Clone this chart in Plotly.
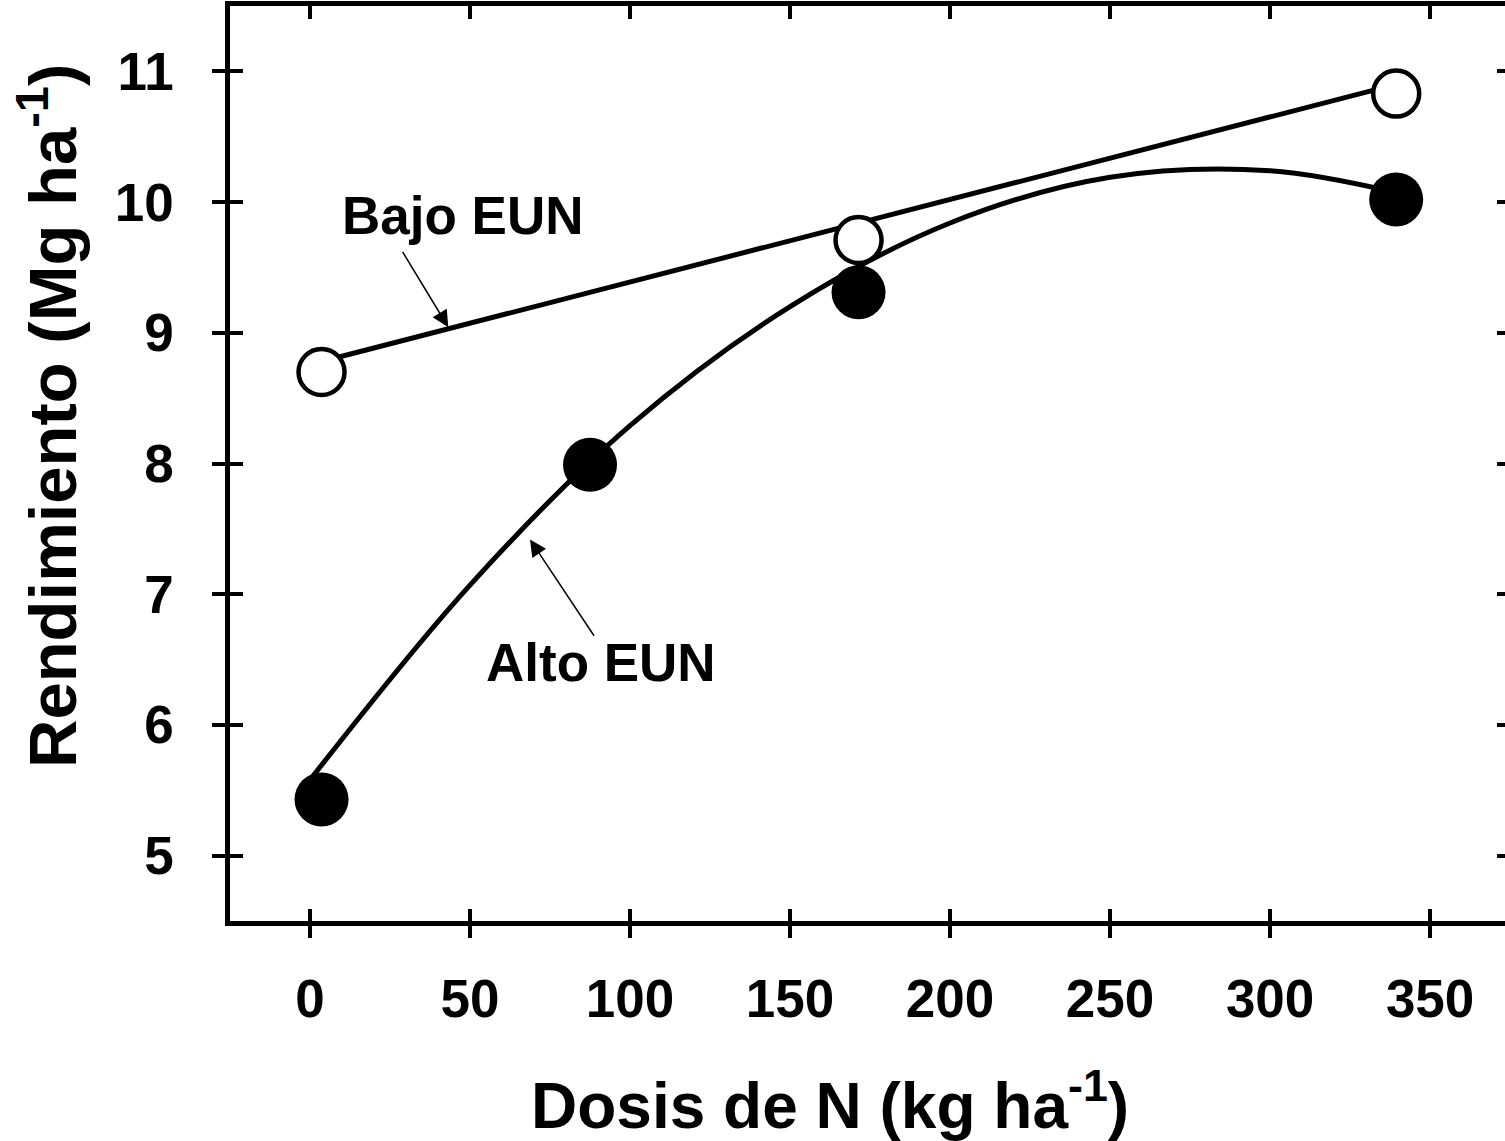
import plotly.graph_objects as go

# Measured yields (Mg/ha) at each N rate (kg/ha)
dosis = [3.6, 87.5, 171.4, 339.4]
alto_eun = [5.43, 7.99, 9.31, 10.02]

dosis_bajo = [3.6, 171.4, 339.4]
bajo_eun = [8.70, 9.71, 10.83]

# Fitted response curves
ajuste_bajo_x = [3.6, 339.4]
ajuste_bajo_y = [8.78, 10.90]

ajuste_alto_x = [0, 50, 100, 150, 200, 250, 300, 340]
ajuste_alto_y = [5.58, 7.07, 8.29, 9.20, 9.84, 10.19, 10.24, 10.07]

x_ticks = [0, 50, 100, 150, 200, 250, 300, 350]
y_ticks = [5, 6, 7, 8, 9, 10, 11]

FONT = "Arial, 'Liberation Sans', sans-serif"
BLACK = "#000000"

fig = go.Figure()

fig.add_trace(go.Scatter(x=ajuste_alto_x, y=ajuste_alto_y, mode="lines",
                         line=dict(color=BLACK, width=5, shape="spline", smoothing=1.0),
                         hoverinfo="skip", showlegend=False))
fig.add_trace(go.Scatter(x=ajuste_bajo_x, y=ajuste_bajo_y, mode="lines",
                         line=dict(color=BLACK, width=5),
                         hoverinfo="skip", showlegend=False))
fig.add_trace(go.Scatter(x=dosis, y=alto_eun, mode="markers", name="Alto EUN",
                         marker=dict(symbol="circle", size=54, color=BLACK, line=dict(width=0)),
                         showlegend=False))
fig.add_trace(go.Scatter(x=dosis_bajo, y=bajo_eun, mode="markers", name="Bajo EUN",
                         marker=dict(symbol="circle", size=46, color="white",
                                     line=dict(color=BLACK, width=4.5)),
                         showlegend=False))

# empty traces so the overlay axes (inner ticks and frame) are rendered
fig.add_trace(go.Scatter(x=[], y=[], xaxis="x2", yaxis="y2", showlegend=False, hoverinfo="skip"))
fig.add_trace(go.Scatter(x=[], y=[], xaxis="x3", yaxis="y3", showlegend=False, hoverinfo="skip"))

x_range = [-25, 373.4]
y_range = [4.5, 11.5]
tick_font = dict(family=FONT, size=53, color=BLACK)
AXIS_W = 4.5

fig.update_layout(
    width=1505, height=1141,
    margin=dict(l=230, r=0, t=6, b=220),
    paper_bgcolor="white", plot_bgcolor="white",
    font=dict(family=FONT, color=BLACK),
    xaxis=dict(range=x_range, tickmode="array", tickvals=x_ticks,
               ticktext=[f"<b>{v}</b>" for v in x_ticks], tickfont=tick_font,
               showline=True, linewidth=AXIS_W, linecolor=BLACK, mirror=False,
               ticks="outside", ticklen=12, tickwidth=4, tickcolor=BLACK,
               showgrid=False, zeroline=False, ticklabelstandoff=16),
    # inner half of the bottom ticks
    xaxis2=dict(range=x_range, overlaying="x", anchor="y", side="bottom",
                tickmode="array", tickvals=x_ticks, showticklabels=False,
                ticks="inside", ticklen=12, tickwidth=4, tickcolor=BLACK,
                showline=False, showgrid=False, zeroline=False),
    # top frame with inward ticks
    xaxis3=dict(range=x_range, overlaying="x", anchor="y", side="top",
                tickmode="array", tickvals=x_ticks, showticklabels=False,
                ticks="inside", ticklen=13, tickwidth=4, tickcolor=BLACK,
                showline=True, linewidth=AXIS_W, linecolor=BLACK,
                showgrid=False, zeroline=False),
    yaxis=dict(range=y_range, tickmode="array", tickvals=y_ticks,
               ticktext=[f"<b>{v}</b>" for v in y_ticks], tickfont=tick_font,
               showline=True, linewidth=AXIS_W, linecolor=BLACK, mirror=False,
               ticks="outside", ticklen=13, tickwidth=4, tickcolor=BLACK,
               showgrid=False, zeroline=False, ticklabelstandoff=28),
    yaxis2=dict(range=y_range, overlaying="y", anchor="x", side="left",
                tickmode="array", tickvals=y_ticks, showticklabels=False,
                ticks="inside", ticklen=13, tickwidth=4, tickcolor=BLACK,
                showline=False, showgrid=False, zeroline=False),
    yaxis3=dict(range=y_range, overlaying="y", anchor="x", side="right",
                tickmode="array", tickvals=y_ticks, showticklabels=False,
                ticks="inside", ticklen=8, tickwidth=4, tickcolor=BLACK,
                showline=False, showgrid=False, zeroline=False),
)

annotations = [
    # axis titles
    dict(text="<b>Dosis de N (kg ha<sup>-1</sup>)</b>", xref="paper", yref="paper",
         x=0.4706, y=-0.197, xanchor="center", yanchor="middle", showarrow=False,
         font=dict(family=FONT, size=64, color=BLACK)),
    dict(text="<b>Rendimiento (Mg ha<sup>-1</sup>)</b>", xref="paper", yref="paper",
         x=-0.1427, y=0.552, xanchor="center", yanchor="middle", showarrow=False,
         textangle=-90, font=dict(family=FONT, size=67, color=BLACK)),
    # series labels
    dict(text="<b>Bajo EUN</b>", x=47.8, y=9.898, xref="x", yref="y", showarrow=False,
         font=dict(family=FONT, size=53, color=BLACK)),
    dict(text="<b>Alto EUN</b>", x=90.9, y=6.477, xref="x", yref="y", showarrow=False,
         font=dict(family=FONT, size=53, color=BLACK)),
    # pointer arrows
    dict(text="", x=43.2, y=9.043, ax=28.66, ay=9.630, xref="x", yref="y",
         axref="x", ayref="y", showarrow=True, arrowhead=2, arrowsize=2.2,
         arrowwidth=1.5, arrowcolor=BLACK),
    dict(text="", x=68.75, y=7.418, ax=89.06, ay=6.671, xref="x", yref="y",
         axref="x", ayref="y", showarrow=True, arrowhead=2, arrowsize=2.2,
         arrowwidth=1.5, arrowcolor=BLACK),
]
fig.update_layout(annotations=annotations)

fig.write_html("out.html")
